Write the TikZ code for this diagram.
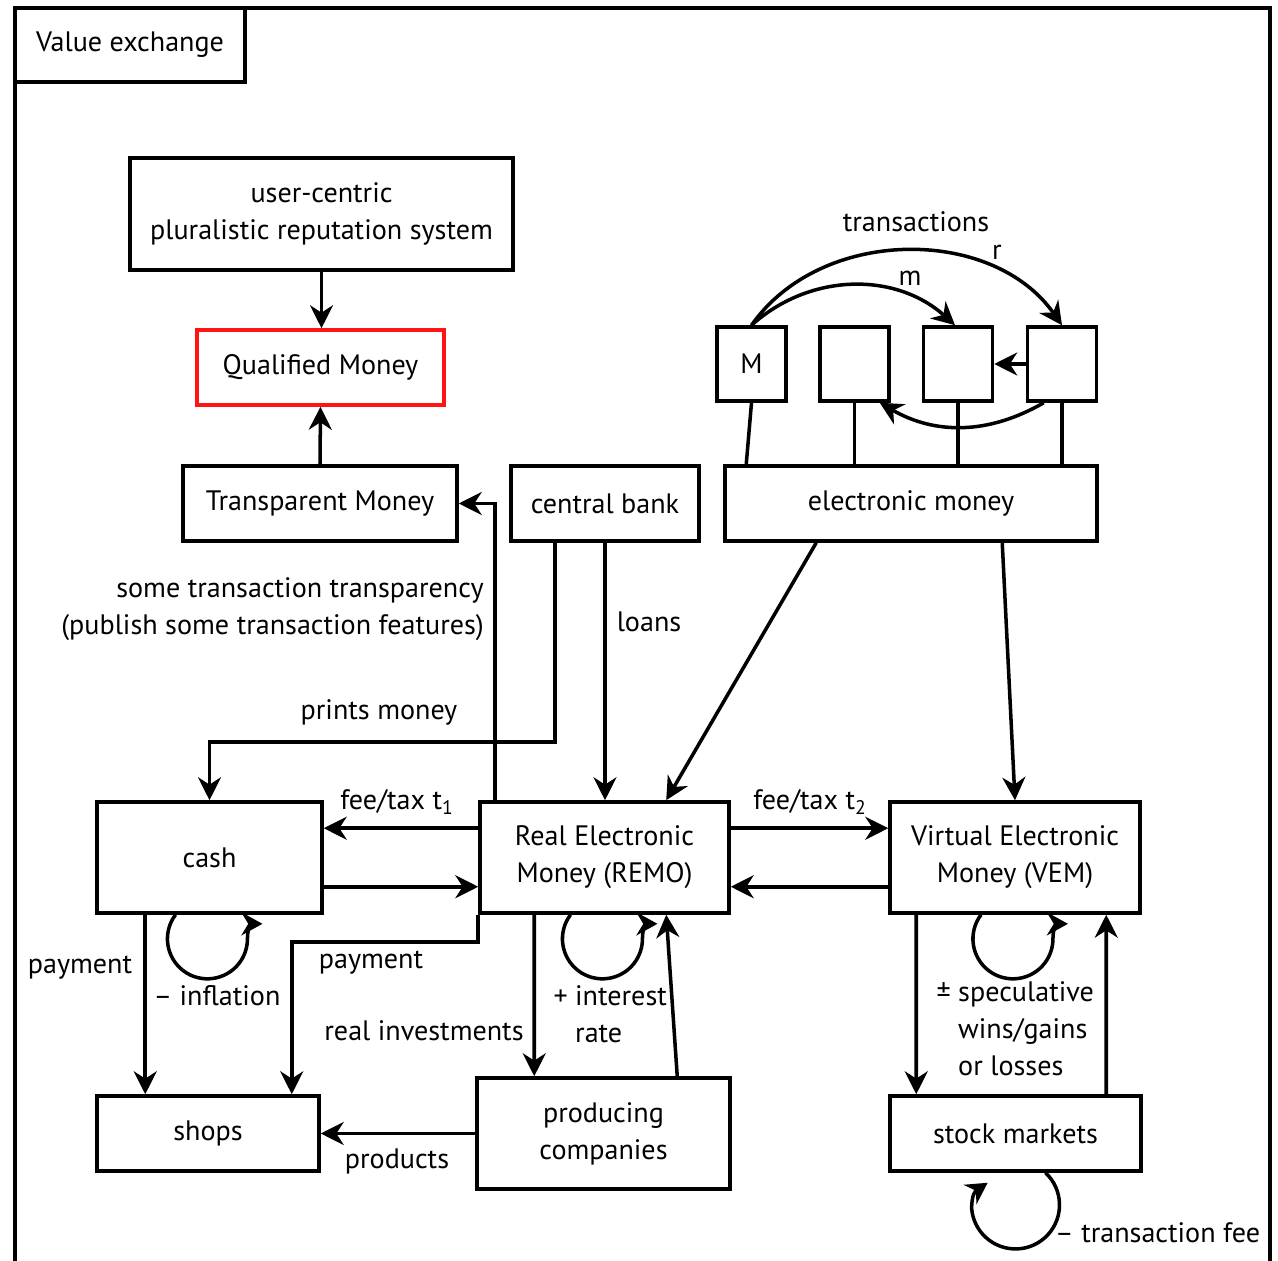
\documentclass[tikz,border=0pt]{standalone}
\usepackage{fontspec}
\setmainfont{PT Sans}
\usetikzlibrary{positioning,arrows.meta,calc}
\definecolor{qualRed}{HTML}{FF1414}

\begin{document}
\begin{tikzpicture}[
    >={Stealth[length=4.6mm,width=4.6mm]},
    font=\fontsize{16}{21}\selectfont,
    box/.style={draw,line width=2pt,inner sep=0pt,align=center},
    mini/.style={box,minimum width=1.38cm,minimum height=1.48cm},
    flow/.style={->,line width=2pt},
    link/.style={line width=2pt},
    cyc/.style={line width=2pt,-{Stealth[length=4.2mm,width=4.6mm]}},
]
\useasboundingbox (0,0) rectangle (25.56,25.22);

% =====================================================================
%  frame
% =====================================================================
\draw[line width=2pt] (0.30,0) -- (0.30,25.06) -- (25.40,25.06) -- (25.40,0);
\node[box,minimum width=4.6cm,minimum height=1.48cm] (title) at (2.60,24.32) {Value exchange};

% =====================================================================
%  reputation / qualified money
% =====================================================================
\node[box,minimum width=7.66cm,minimum height=2.24cm] (rep) at (6.43,20.94)
     {user-centric\\pluralistic reputation system};
\node[box,draw=qualRed,minimum width=4.94cm,minimum height=1.5cm] (qm) at (6.41,17.87) {Qualified Money};
\node[box,minimum width=5.48cm,minimum height=1.5cm] (tm) at (6.40,15.15) {Transparent Money};
\node[box,minimum width=3.76cm,minimum height=1.5cm] (cb) at (12.10,15.15) {central bank};
\node[box,minimum width=7.44cm,minimum height=1.5cm] (em) at (18.22,15.15) {electronic money};

\draw[flow] (rep.south) -- (rep.south |- qm.north);
\draw[flow] (tm.north) -- (qm.south);

% =====================================================================
%  accounts inside electronic money
% =====================================================================
\node[mini] (m1) at (15.03,17.94) {M};
\foreach \x/\n in {17.09/m2,19.16/m3,21.24/m4}
   \node[mini] (\n) at (\x,17.94) {};

\draw[link] (m1.south) -- ([xshift=0.46cm]em.north west);
\foreach \n in {m2,m3,m4} \draw[link] (\n.south) -- (\n.south |- em.north);

\draw[flow] (m1.north) to[bend left=42] ([xshift=-0.06cm]m3.north);
\draw[flow] (m1.north) to[bend left=55] (m4.north);
\draw[flow] (m4.west) -- (m3.east);
\draw[flow] ([xshift=0.36cm]m4.south west) to[bend left=30] ([xshift=-0.22cm]m2.south east);

\node (ltr) at (18.32,20.78) {transactions};
\node (lr)  at (19.94,20.18) {r};
\node (lm)  at (18.20,19.66) {m};

% =====================================================================
%  money kinds
% =====================================================================
\node[box,minimum width=4.5cm,minimum height=2.22cm] (cash) at (4.19,8.07) {cash};
\node[box,minimum width=4.98cm,minimum height=2.22cm] (remo) at (12.09,8.07)
     {Real Electronic\\Money (REMO)};
\node[box,minimum width=5.0cm,minimum height=2.22cm] (vem) at (20.30,8.07)
     {Virtual Electronic\\Money (VEM)};
\node[box,minimum width=4.44cm,minimum height=1.5cm] (shops) at (4.16,2.55) {shops};
\node[box,minimum width=5.06cm,minimum height=2.22cm] (prod) at (12.07,2.55)
     {producing\\companies};
\node[box,minimum width=5.02cm,minimum height=1.5cm] (stock) at (20.31,2.55) {stock markets};

% central bank and electronic money feed the accounts
\draw[flow] ([xshift=0.34cm]remo.north west) |- (tm.east);
\draw[flow] ([xshift=0.92cm]cb.south west) -- ++(0,-3.98) -| (cash.north);
\draw[flow] (cb.south) -- (cb.south |- remo.north);
\draw[flow] ([xshift=1.86cm]em.south west) -- ([xshift=3.76cm]remo.north west);
\draw[flow] ([xshift=5.58cm]em.south west) -- (vem.north);

\node[anchor=east,align=right] (ltransp) at (9.80,13.04)
     {some transaction transparency\\(publish some transaction features)};
\node (lprint) at (7.58,10.98) {prints money};
\node (lloan)  at (12.98,12.78) {loans};

% exchanges between the money kinds
\draw[flow] ([yshift=-0.56cm]remo.north west) -- ([yshift=-0.56cm]cash.north east);
\draw[flow] ([yshift=0.56cm]cash.south east) -- ([yshift=0.56cm]remo.south west);
\draw[flow] ([yshift=-0.56cm]remo.north east) -- ([yshift=-0.56cm]vem.north west);
\draw[flow] ([yshift=0.56cm]vem.south west) -- ([yshift=0.56cm]remo.south east);
\node (lt1) at (7.94,9.18) {fee/tax t\textsubscript{1}};
\node (lt2) at (16.20,9.18) {fee/tax t\textsubscript{2}};

% =====================================================================
%  economy below
% =====================================================================
\draw[flow] ([xshift=1cm]cash.south west) -- ([xshift=1cm]shops.north west);
\draw[flow] (remo.south west) -- ++(0,-0.54) -| ([xshift=-0.58cm]shops.north east);
\draw[flow] ([xshift=1.12cm]remo.south west) -- ([xshift=1.18cm]prod.north west);
\draw[flow] ([xshift=4.04cm]prod.north west) -- ([xshift=3.76cm]remo.south west);
\draw[flow] (prod.west) -- (shops.east);
\draw[flow] ([xshift=0.56cm]vem.south west) -- ([xshift=0.56cm]stock.north west);
\draw[flow] ([xshift=4.36cm]stock.north west) -- ([xshift=4.36cm]vem.south west);

% self loops (inflation, interest, speculation, fees)
\foreach \n in {cash,remo,vem}
   \draw[cyc] ([xshift=-0.68cm]\n.south) arc[start angle=143,end angle=360,radius=0.8cm]
              .. controls +(0,0.22) and +(-0.22,0) .. ++(0.30,0.30);
\draw[cyc] ([xshift=0.60cm]stock.south) arc[start angle=47,end angle=-175,radius=0.88cm]
           .. controls +(0,0.3) and +(-0.24,-0.16) .. ++(0.32,0.52);

\node (lpay1) at (1.60,5.86) {payment};
\node (lpay2) at (7.42,5.96) {payment};
\node (linfl) at (4.34,5.30) {– inflation};
\node[anchor=west,align=left] (lint) at (11.38,4.94) {\llap{+ }interest\\rate};
\node (linv)  at (8.48,4.60) {real investments};
\node[anchor=west,align=left] (lspec) at (19.04,4.64)
     {\llap{± }speculative\\wins/gains\\or losses};
\node (lprod) at (7.94,2.00) {products};
\node[anchor=west] (lfee) at (20.98,0.56) {– transaction fee};

\end{tikzpicture}
\end{document}
